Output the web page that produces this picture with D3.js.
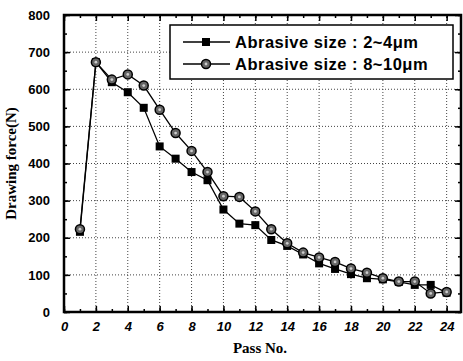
<!DOCTYPE html>
<html><head><meta charset="utf-8">
<script src="https://cdn.jsdelivr.net/npm/d3@7"></script>
<style>body{margin:0;background:#fff}</style>
</head><body>
<script>
const passNo = [1,2,3,4,5,6,7,8,9,10,11,12,13,14,15,16,17,18,19,20,21,22,23,24];
const size2to4 = [216,673,619,592,550,446,413,377,355,276,238,234,194,178,155,131,116,102,91,88,81,73,73,52];
const size8to10 = [223,673,626,640,610,545,482,434,377,312,310,271,223,185,160,147,135,117,106,91,82,82,50,54];
const xTicks = [0,2,4,6,8,10,12,14,16,18,20,22,24];
const yTicks = [0,100,200,300,400,500,600,700,800];
const legendLabels = ["Abrasive size : 2~4\u03bcm","Abrasive size : 8~10\u03bcm"];

const W=463,H=361;
const m={l:64,r:2,t:15,b:49};
const svg=d3.select("body").append("svg").attr("width",W).attr("height",H);
const x=d3.scaleLinear().domain([0,24.9]).range([m.l,W-m.r]);
const y=d3.scaleLinear().domain([0,800]).range([H-m.b,m.t]);
const x0=x.range()[0],x1=x.range()[1],y0=y.range()[0],y1=y.range()[1];

// grid
const g=svg.append("g");
g.selectAll(".gx").data(xTicks.filter(d=>d>0)).join("line")
 .attr("x1",d=>x(d)).attr("x2",d=>x(d)).attr("y1",y0).attr("y2",y1)
 .attr("stroke","#444").attr("stroke-width",1).attr("stroke-dasharray","1,2");
g.selectAll(".gy").data(yTicks.filter(d=>d>0&&d<800)).join("line")
 .attr("y1",d=>y(d)).attr("y2",d=>y(d)).attr("x1",x0).attr("x2",x1)
 .attr("stroke","#444").attr("stroke-width",1).attr("stroke-dasharray","1,2");

// axes with inward ticks
const minorX=d3.range(0,25,1), minorY=d3.range(0,801,50);
svg.append("g").attr("transform",`translate(0,${y0})`)
 .call(d3.axisBottom(x).tickValues(minorX).tickSize(-3).tickFormat(""));
const bxM=svg.append("g").attr("transform",`translate(0,${y0})`)
 .call(d3.axisBottom(x).tickValues(xTicks).tickSize(-6).tickPadding(10).tickFormat(d3.format("d")));
bxM.selectAll("text").attr("font-family","Liberation Sans, Arial").attr("font-weight","bold").attr("font-style","italic").attr("font-size",13).attr("fill","#000");
svg.append("g").attr("transform",`translate(0,${y1})`)
 .call(d3.axisTop(x).tickValues(minorX).tickSize(-3).tickFormat(""));
svg.append("g").attr("transform",`translate(0,${y1})`)
 .call(d3.axisTop(x).tickValues(xTicks).tickSize(-6).tickFormat(""));
svg.append("g").attr("transform",`translate(${x0},0)`)
 .call(d3.axisLeft(y).tickValues(minorY).tickSize(-3).tickFormat(""));
const lyM=svg.append("g").attr("transform",`translate(${x0},0)`)
 .call(d3.axisLeft(y).tickValues(yTicks).tickSize(-6).tickPadding(14).tickFormat(d3.format("d")));
lyM.selectAll("text").attr("font-family","Liberation Sans, Arial").attr("font-weight","bold").attr("font-size",13).attr("fill","#000");
svg.append("g").attr("transform",`translate(${x1},0)`)
 .call(d3.axisRight(y).tickValues(minorY).tickSize(-3).tickFormat(""));
svg.append("g").attr("transform",`translate(${x1},0)`)
 .call(d3.axisRight(y).tickValues(yTicks).tickSize(-6).tickFormat(""));
svg.selectAll(".domain").remove();
svg.selectAll(".tick line").attr("stroke","#000").attr("stroke-width",1.5);

// frame
svg.append("rect").attr("x",x0).attr("y",y1).attr("width",x1-x0).attr("height",y0-y1)
 .attr("fill","none").attr("stroke","#000").attr("stroke-width",2.5);

// series
const line=d3.line().x((d,i)=>x(passNo[i])).y(d=>y(d));
svg.append("path").datum(size2to4).attr("d",line).attr("fill","none").attr("stroke","#000").attr("stroke-width",1.3);
svg.append("path").datum(size8to10).attr("d",line).attr("fill","none").attr("stroke","#000").attr("stroke-width",1.3);

function square(sel,cx,cy){
  sel.append("rect").attr("x",cx-4).attr("y",cy-4).attr("width",8).attr("height",8).attr("fill","#000");
}
function circ(sel,cx,cy){
  sel.append("circle").attr("cx",cx).attr("cy",cy).attr("r",4.5).attr("fill","#666").attr("stroke","#000").attr("stroke-width",1.5);
  sel.append("circle").attr("cx",cx).attr("cy",cy).attr("r",1.4).attr("fill","#ccc");
}
const mk=svg.append("g");
size2to4.forEach((v,i)=>square(mk,x(passNo[i]),y(v)));
size8to10.forEach((v,i)=>circ(mk,x(passNo[i]),y(v)));

// legend
const lg=svg.append("g");
lg.append("rect").attr("x",170).attr("y",25).attr("width",283).attr("height",54).attr("fill","#fff").attr("stroke","#000").attr("stroke-width",1.5);
[42,64].forEach((yy,i)=>{
  lg.append("line").attr("x1",183).attr("x2",230).attr("y1",yy).attr("y2",yy).attr("stroke","#000").attr("stroke-width",1.3);
  if(i===0) square(lg,206,yy); else circ(lg,206,yy);
  lg.append("text").attr("x",235).attr("y",yy+6).text(legendLabels[i])
   .attr("font-family","Liberation Sans, Arial").attr("font-weight","bold").attr("font-size",16.5)
   .attr("letter-spacing",0.5).attr("fill","#000");
});

// titles
svg.append("text").attr("x",260).attr("y",353).attr("text-anchor","middle").text("Pass No.")
 .attr("font-family","Liberation Serif, Times New Roman").attr("font-weight","bold").attr("font-size",15);
svg.append("text").attr("transform",`translate(16,${(y0+y1)/2}) rotate(-90)`).attr("text-anchor","middle").text("Drawing force(N)")
 .attr("font-family","Liberation Serif, Times New Roman").attr("font-weight","bold").attr("font-size",15);
</script>
</body></html>
